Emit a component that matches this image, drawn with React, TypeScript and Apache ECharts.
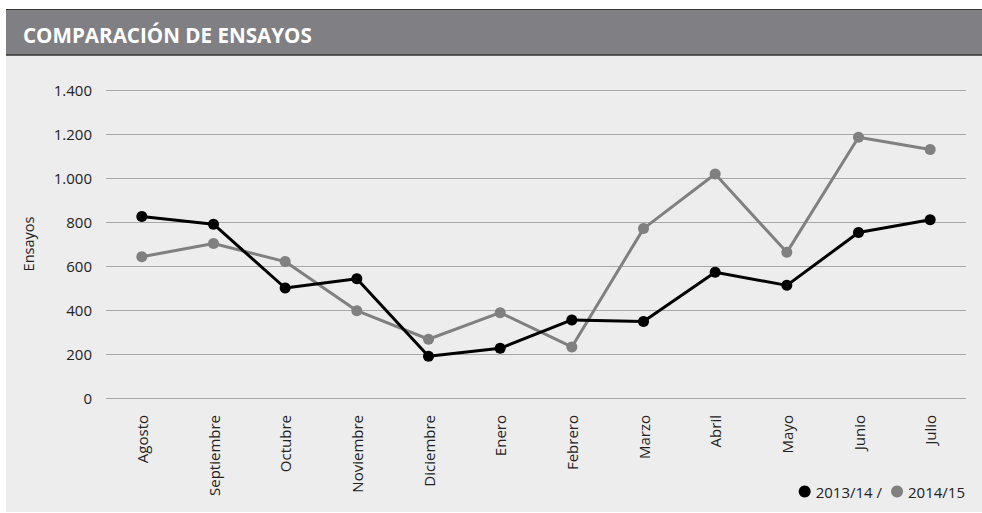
import React, { useEffect, useRef } from "react";
import * as echarts from "echarts";

const categories = ["Agosto", "Septiembre", "Octubre", "Noviembre", "Diciembre", "Enero", "Febrero", "Marzo", "Abril", "Mayo", "Junio", "Julio"];
const serie2013 = [825, 790, 500, 542, 190, 226, 355, 348, 572, 512, 752, 810];
const serie2014 = [642, 702, 620, 397, 267, 388, 232, 770, 1018, 662, 1185, 1130];
const seriesNames = ["2013/14", "2014/15"];
const titleText = "COMPARACIÓN DE ENSAYOS";
const yAxisName = "Ensayos";

const FONT = "'Open Sans', 'Noto Sans', sans-serif";

export default function App() {
  const ref = useRef<HTMLDivElement>(null);
  useEffect(() => {
    if (!ref.current) return;
    const chart = echarts.init(ref.current, undefined, { renderer: "svg" });
    chart.setOption({
      animation: false,
      backgroundColor: "#ffffff",
      textStyle: { fontFamily: FONT },
      graphic: [
        { type: "rect", shape: { x: 6, y: 55, width: 976, height: 457 }, style: { fill: "#ededed" }, z: -10 },
        { type: "rect", shape: { x: 6, y: 9, width: 976, height: 46 }, style: { fill: "#808084" }, z: -10 },
        { type: "line", shape: { x1: 6, y1: 9.5, x2: 982, y2: 9.5 }, style: { stroke: "#3a3a3a", lineWidth: 1 }, z: -9 },
        { type: "line", shape: { x1: 6, y1: 55, x2: 982, y2: 55 }, style: { stroke: "#333333", lineWidth: 1.5 }, z: -9 },
        {
          type: "text",
          x: 23,
          y: 35,
          style: { text: titleText, fill: "#ffffff", font: `bold 20.6px ${FONT}`, verticalAlign: "middle" },
        },
      ],
      legend: {
        right: 12,
        top: 479,
        itemWidth: 12,
        itemHeight: 12,
        itemGap: 9,
        icon: "circle",
        data: seriesNames,
        formatter: (name: string) => (name === seriesNames[0] ? name + " /" : name),
        textStyle: { fontFamily: FONT, fontSize: 15, color: "#222222", padding: [0, 0, 0, 0] },
      },
      grid: { left: 106, right: 16, top: 90, bottom: 115, containLabel: false },
      xAxis: {
        type: "category",
        data: categories,
        boundaryGap: true,
        axisLine: { show: false },
        axisTick: { show: false },
        axisLabel: { rotate: 90, margin: 17, fontFamily: FONT, fontSize: 15, color: "#222222" },
      },
      yAxis: {
        type: "value",
        min: 0,
        max: 1400,
        interval: 200,
        name: yAxisName,
        nameLocation: "middle",
        nameGap: 70,
        nameTextStyle: { fontFamily: FONT, fontSize: 14.5, color: "#222222" },
        axisLine: { show: false },
        axisTick: { show: false },
        splitLine: { lineStyle: { color: "#a8a8a8", width: 1 } },
        axisLabel: {
          margin: 14,
          fontFamily: FONT,
          fontSize: 15,
          color: "#222222",
          formatter: (v: number) => String(v).replace(/\B(?=(\d{3})+(?!\d))/g, "."),
        },
      },
      series: [
        {
          name: seriesNames[0],
          type: "line",
          data: serie2013,
          symbol: "circle",
          symbolSize: 11,
          lineStyle: { color: "#000000", width: 3 },
          itemStyle: { color: "#000000" },
          z: 3,
        },
        {
          name: seriesNames[1],
          type: "line",
          data: serie2014,
          symbol: "circle",
          symbolSize: 11,
          lineStyle: { color: "#808080", width: 3 },
          itemStyle: { color: "#808080" },
          z: 2,
        },
      ],
    });
    return () => chart.dispose();
  }, []);
  return <div ref={ref} style={{ position: "fixed", left: 0, top: 0, width: 982, height: 513 }} />;
}
